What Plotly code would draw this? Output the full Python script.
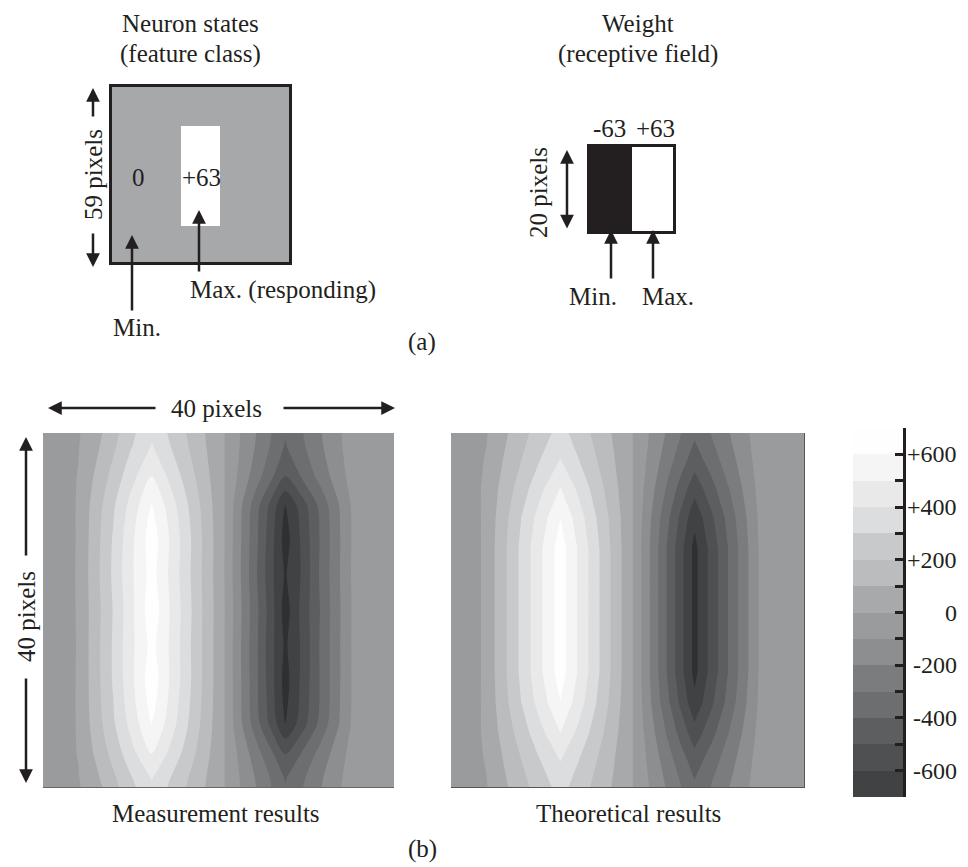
import plotly.graph_objects as go

W, H = 968, 867
FONT = "Liberation Serif"
INK = "#231f20"

# ---------------- (a) data ----------------
neuron_x_edges = [0, 23, 36, 59]
neuron_y_edges = [0, 13, 47, 59]
neuron_values = [[0, 0, 0],
                 [0, 63, 0],
                 [0, 0, 0]]

weight_x_edges = [0, 10, 20]
weight_y_edges = [0, 20]
weight_values = [[-63, 63]]

# ---------------- (b) data ----------------
cols = [0, 2, 3, 4, 6, 8, 10, 12.4, 14.5, 16.5, 18.5, 20.6, 22.5, 24.5, 26, 27.6,
        29.5, 31.5, 33.5, 35.5, 37, 40]

theory_rows = [0, 3, 6.2, 9.5, 13, 20, 27, 30.5, 33.8, 37, 40]
theory_z = [
    [-10, -10, -10, -6, 80, 165, 246, 338, 252, 170, 86, 0, -103, -211, -293, -380, -294, -203, -113, -22, -10, -10],
    [-12, -12, -12, 5, 105, 200, 294, 403, 300, 202, 103, 0, -123, -252, -349, -453, -350, -242, -135, -27, -12, -12],
    [-15, -15, -15, 23, 137, 251, 365, 502, 373, 251, 128, 0, -152, -313, -434, -562, -435, -301, -167, -33, -15, -15],
    [-18, -18, -18, 28, 164, 302, 436, 598, 445, 298, 153, 0, -182, -374, -518, -672, -520, -360, -199, -40, -18, -18],
    [-20, -20, -20, 30, 178, 326, 474, 650, 484, 326, 166, 0, -198, -406, -563, -730, -565, -391, -217, -43, -20, -20],
    [-20, -20, -20, 30, 178, 326, 474, 650, 484, 326, 166, 0, -198, -406, -563, -730, -565, -391, -217, -43, -20, -20],
    [-20, -20, -20, 30, 178, 326, 474, 650, 484, 326, 166, 0, -198, -406, -563, -730, -565, -391, -217, -43, -20, -20],
    [-18, -18, -18, 28, 164, 302, 436, 598, 445, 298, 153, 0, -182, -374, -518, -672, -520, -360, -199, -40, -18, -18],
    [-15, -15, -15, 23, 137, 251, 365, 502, 373, 251, 128, 0, -152, -313, -434, -562, -435, -301, -167, -33, -15, -15],
    [-12, -12, -12, 5, 105, 200, 294, 403, 300, 202, 103, 0, -123, -252, -349, -453, -350, -242, -135, -27, -12, -12],
    [-10, -10, -10, -6, 80, 165, 246, 338, 252, 170, 86, 0, -103, -211, -293, -380, -294, -203, -113, -22, -10, -10],
]

meas_rows = [0, 1.4, 5, 8.2, 12, 16, 20, 24, 28, 32.8, 36.2, 39, 40]
meas_z = [
    [-15, -15, -15, -10, 60, 165, 273, 383, 284, 191, 99, 6, -101, -212, -297, -392, -307, -212, -122, -37, -15, -15],
    [-15, -15, -15, -6, 75, 180, 289, 406, 301, 203, 105, 6, -105, -220, -308, -407, -319, -220, -127, -39, -15, -15],
    [-19, -19, -19, 4, 115, 235, 362, 508, 377, 254, 131, 8, -129, -272, -381, -503, -394, -272, -156, -48, -19, -19],
    [-23, -23, -23, 9, 147, 285, 432, 607, 451, 304, 156, 9, -181, -380, -532, -703, -551, -380, -219, -67, -24, -24],
    [-25, -25, -25, 10, 160, 310, 470, 655, 490, 330, 170, 10, -190, -400, -560, -745, -580, -400, -230, -70, -25, -25],
    [-25, -25, -25, 12, 165, 318, 478, 640, 482, 325, 168, 8, -195, -410, -575, -712, -590, -395, -228, -68, -25, -25],
    [-25, -25, -25, 10, 158, 305, 468, 668, 495, 335, 172, 12, -185, -395, -555, -748, -572, -405, -232, -72, -25, -25],
    [-25, -25, -25, 8, 162, 312, 472, 632, 488, 328, 170, 10, -192, -402, -566, -718, -585, -398, -230, -70, -25, -25],
    [-25, -25, -25, 10, 160, 310, 470, 662, 490, 330, 170, 10, -190, -400, -560, -742, -578, -400, -230, -70, -25, -25],
    [-23, -23, -23, 9, 147, 285, 432, 607, 451, 304, 156, 9, -181, -380, -532, -703, -551, -380, -219, -67, -24, -24],
    [-19, -19, -19, 4, 115, 235, 362, 508, 377, 254, 131, 8, -129, -272, -381, -503, -394, -272, -156, -48, -19, -19],
    [-15, -15, -15, -6, 75, 180, 289, 406, 301, 203, 105, 6, -105, -220, -308, -407, -319, -220, -127, -39, -15, -15],
    [-15, -15, -15, -10, 60, 165, 273, 383, 284, 191, 99, 6, -101, -212, -297, -392, -307, -212, -122, -37, -15, -15],
]

level_start, level_end, level_step = -700, 700, 100
band_mids = [-650, -550, -450, -350, -250, -150, -50, 50, 150, 250, 350, 450, 550, 650]
cbar_ticks = [-700, -600, -500, -400, -300, -200, -100, 0, 100, 200, 300, 400, 500, 600, 700]
cbar_label_vals = [600, 400, 200, 0, -200, -400, -600]
cbar_label_text = ["+600", "+400", "+200", "0", "-200", "-400", "-600"]

# grey bands (value at band middle -> colour)
band_colors = [
    (-750, "#303032"), (-650, "#414244"), (-550, "#4f5052"), (-450, "#5d5e60"),
    (-350, "#6d6e70"), (-250, "#7b7c7e"), (-150, "#8d8e90"), (-50, "#9a9b9d"),
    (50, "#a8a9ab"), (150, "#bbbcbe"), (250, "#c8c9cb"), (350, "#dcdddf"),
    (450, "#e9e9ea"), (550, "#f5f5f5"), (650, "#fefefe"), (750, "#ffffff"),
]
CS = [[(v + 750) / 1500, c] for v, c in band_colors]
STATE_CS = [[0, INK], [0.5, "#a7a8aa"], [1, "#ffffff"]]


def px(x):
    return x / W


def py(y):
    return 1 - y / H


fig = go.Figure()

fig.add_trace(go.Contour(x=cols, y=meas_rows, z=meas_z, xaxis="x", yaxis="y",
                         colorscale=CS, autocontour=False,
                         contours=dict(start=level_start, end=level_end, size=level_step,
                                       coloring="fill", showlines=False),
                         line=dict(width=0, smoothing=0.8), showscale=False, hoverinfo="skip"))
fig.add_trace(go.Contour(x=cols, y=theory_rows, z=theory_z, xaxis="x4", yaxis="y4",
                         colorscale=CS, autocontour=False,
                         contours=dict(start=level_start, end=level_end, size=level_step,
                                       coloring="fill", showlines=False),
                         line=dict(width=0, smoothing=0), showscale=False, hoverinfo="skip"))
fig.add_trace(go.Heatmap(x=neuron_x_edges, y=neuron_y_edges, z=neuron_values,
                         xaxis="x2", yaxis="y2", colorscale=STATE_CS, zmin=-63, zmax=63,
                         showscale=False, hoverinfo="skip"))
fig.add_trace(go.Heatmap(x=weight_x_edges, y=weight_y_edges, z=weight_values,
                         xaxis="x3", yaxis="y3", colorscale=STATE_CS, zmin=-63, zmax=63,
                         showscale=False, hoverinfo="skip"))
fig.add_trace(go.Heatmap(x=[0], y=band_mids, z=[[v] for v in band_mids],
                         xaxis="x5", yaxis="y5", colorscale=CS, zmin=-750, zmax=750,
                         showscale=False, hoverinfo="skip"))


def ax(domain, rng, anchor, **kw):
    d = dict(domain=domain, range=rng, anchor=anchor, showgrid=False, zeroline=False,
             showticklabels=False, ticks="")
    d.update(kw)
    return d


plot_y = [py(787), py(433)]
fig.update_layout(
    width=W, height=H, margin=dict(l=0, r=0, t=0, b=0),
    paper_bgcolor="white", plot_bgcolor="white", showlegend=False,
    xaxis=ax([px(43), px(394)], [0, 40], "y", showline=True, linecolor="#666", linewidth=1),
    yaxis=ax(plot_y, [40, 0], "x"),
    xaxis4=ax([px(451), px(804)], [0, 40], "y4", showline=True, linecolor="#555", linewidth=1),
    yaxis4=ax(plot_y, [40, 0], "x4", side="right", showline=True, linecolor="#555", linewidth=1),
    xaxis2=ax([px(112), px(289)], [0, 59], "y2", showline=True, mirror=True, linecolor=INK, linewidth=3),
    yaxis2=ax([py(262), py(87)], [59, 0], "x2", showline=True, mirror=True, linecolor=INK, linewidth=3),
    xaxis3=ax([px(590), px(673)], [0, 20], "y3", showline=True, mirror=True, linecolor=INK, linewidth=3),
    yaxis3=ax([py(231), py(147)], [20, 0], "x3", showline=True, mirror=True, linecolor=INK, linewidth=3),
    xaxis5=ax([px(853), px(903)], [-0.5, 0.5], "y5"),
    yaxis5=ax([py(797), py(428)], [-700, 700], "x5", side="right", showline=True,
              linecolor=INK, linewidth=3, ticks="inside", tickvals=cbar_ticks,
              ticklen=8, tickwidth=2.5, tickcolor=INK),
)

ann = []


def text(s, x, y, size=25, angle=0, xanchor="center"):
    ann.append(dict(text=s, x=px(x), y=py(y), xref="paper", yref="paper", showarrow=False,
                    textangle=angle, xanchor=xanchor, yanchor="middle",
                    font=dict(family=FONT, size=size, color=INK)))


def arrow(hx, hy, tx, ty, both=False):
    ann.append(dict(text="", x=px(hx), y=py(hy), xref="paper", yref="paper",
                    ax=tx - hx, ay=ty - hy, axref="pixel", ayref="pixel", showarrow=True,
                    arrowhead=2, arrowsize=1.1, arrowwidth=2.5, arrowcolor=INK,
                    startarrowhead=2, startarrowsize=1.1,
                    arrowside="end+start" if both else "end", standoff=0, startstandoff=0))


# (a) labels
text("Neuron states", 190, 23)
text("(feature class)", 190, 54)
text("Weight", 638, 23)
text("(receptive field)", 638, 54)
text("0", 138, 178)
text("+63", 201, 178)
text("59 pixels", 93, 175, angle=-90)
arrow(93, 88, 93, 118)
arrow(93, 267, 93, 232)
arrow(132, 235, 132, 312)
text("Min.", 137, 328)
arrow(199, 210, 199, 273)
text("Max. (responding)", 283, 290)
text("-63", 609, 128)
text("+63", 655, 128)
text("20 pixels", 538, 193, angle=-90)
arrow(567, 150, 567, 230, both=True)
arrow(611, 230, 611, 280)
arrow(653, 230, 653, 280)
text("Min.", 593, 297)
text("Max.", 668, 297)
text("(a)", 422, 342)

# (b) labels
text("40 pixels", 216, 408)
arrow(48, 408, 157, 408)
arrow(395, 408, 282, 408)
text("40 pixels", 26, 617, angle=-90)
arrow(26, 437, 26, 557)
arrow(26, 783, 26, 677)
text("Measurement results", 216, 813)
text("Theoretical results", 628, 813)
text("(b)", 422, 849)

for v, s in zip(cbar_label_vals, cbar_label_text):
    ann.append(dict(text=s, x=px(959), y=v, xref="paper", yref="y5", showarrow=False,
                    xanchor="right", yanchor="middle",
                    font=dict(family=FONT, size=24, color=INK)))

fig.update_layout(annotations=ann)

fig.write_html("out.html", config={"displayModeBar": False},
               post_script="document.body.style.margin='0';")
